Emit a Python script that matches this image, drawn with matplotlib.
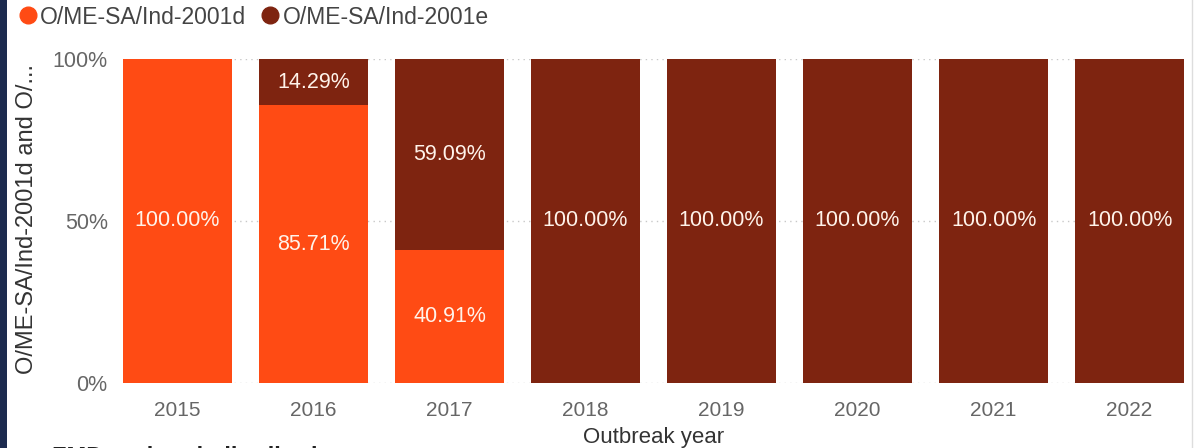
import matplotlib
matplotlib.use("Agg")
import matplotlib.pyplot as plt
from matplotlib.patches import Rectangle
from matplotlib.lines import Line2D
import numpy as np

years = ["2015", "2016", "2017", "2018", "2019", "2020", "2021", "2022"]
share_d = [100.00, 85.71, 40.91, 0, 0, 0, 0, 0]
share_e = [0, 14.29, 59.09, 100.00, 100.00, 100.00, 100.00, 100.00]
series_names = ["O/ME-SA/Ind-2001d", "O/ME-SA/Ind-2001e"]
colors = ["#FF4B14", "#7E2410"]

plt.rcParams['font.family'] = ['Liberation Sans', 'DejaVu Sans']

W, H = 1195, 448
fig = plt.figure(figsize=(W / 100, H / 100), dpi=100)
ax = fig.add_axes([123 / W, (H - 383) / H, (1184 - 123) / W, 324 / H])

x = np.arange(len(years))
ax.bar(x, share_d, width=0.8, color=colors[0], zorder=3)
ax.bar(x, share_e, width=0.8, bottom=share_d, color=colors[1], zorder=3)

for i in range(len(years)):
    if share_d[i] > 0:
        ax.text(x[i], share_d[i] / 2, f"{share_d[i]:.2f}%", ha='center', va='center',
                color='#FFF3EA', fontsize=15.5, zorder=4)
    if share_e[i] > 0:
        ax.text(x[i], share_d[i] + share_e[i] / 2, f"{share_e[i]:.2f}%", ha='center', va='center',
                color='#FFF3EA', fontsize=15.5, zorder=4)

ax.set_xlim(-0.4, len(years) - 0.6)
ax.set_ylim(0, 100)
ax.set_yticks([0, 50, 100])
ax.set_yticklabels(["0%", "50%", "100%"])
ax.set_xticks(x)
ax.set_xticklabels(years)
ax.tick_params(axis='both', length=0, colors='#666666')
ax.tick_params(axis='x', labelsize=15, pad=13)
ax.tick_params(axis='y', labelsize=15.5, pad=11)
for s in ax.spines.values():
    s.set_visible(False)
ax.yaxis.grid(True, linestyle=(0, (1, 3)), color='#C8C8C8', linewidth=1, zorder=0)
ax.set_axisbelow(True)

ax.set_xlabel("Outbreak year", fontsize=16, color='#333333', labelpad=5)
fig.text(27 / W, (H - 219) / H, "O/ME-SA/Ind-2001d and O/...", rotation=90,
         ha='center', va='center', fontsize=17, color='#333333')

# legend
handles = [Line2D([0], [0], marker='o', linestyle='', markersize=12,
                  markerfacecolor=c, markeredgecolor=c) for c in colors]
fig.legend(handles, series_names, loc='center left', bbox_to_anchor=(15 / W, (H - 17) / H),
           ncol=2, frameon=False, fontsize=16.5, handletextpad=0.0, columnspacing=0.5,
           handlelength=1.1, labelcolor='#444444', borderaxespad=0, borderpad=0)

# caption cut off at the bottom edge, as in the reference
fig.text(52 / W, -9 / H, "FMD outbreak distribution", fontsize=17, color='#222222',
         ha='left', va='center', fontweight='bold')

# dark left edge and thin right border
fig.add_artist(Rectangle((0, 0), 7 / W, 1, transform=fig.transFigure,
                         facecolor='#1C2B4F', edgecolor='none'))
fig.add_artist(Line2D([1192 / W, 1192 / W], [0, 1], transform=fig.transFigure,
                      color='#DDDDDD', linewidth=1))

fig.savefig("out.png", dpi=100)
